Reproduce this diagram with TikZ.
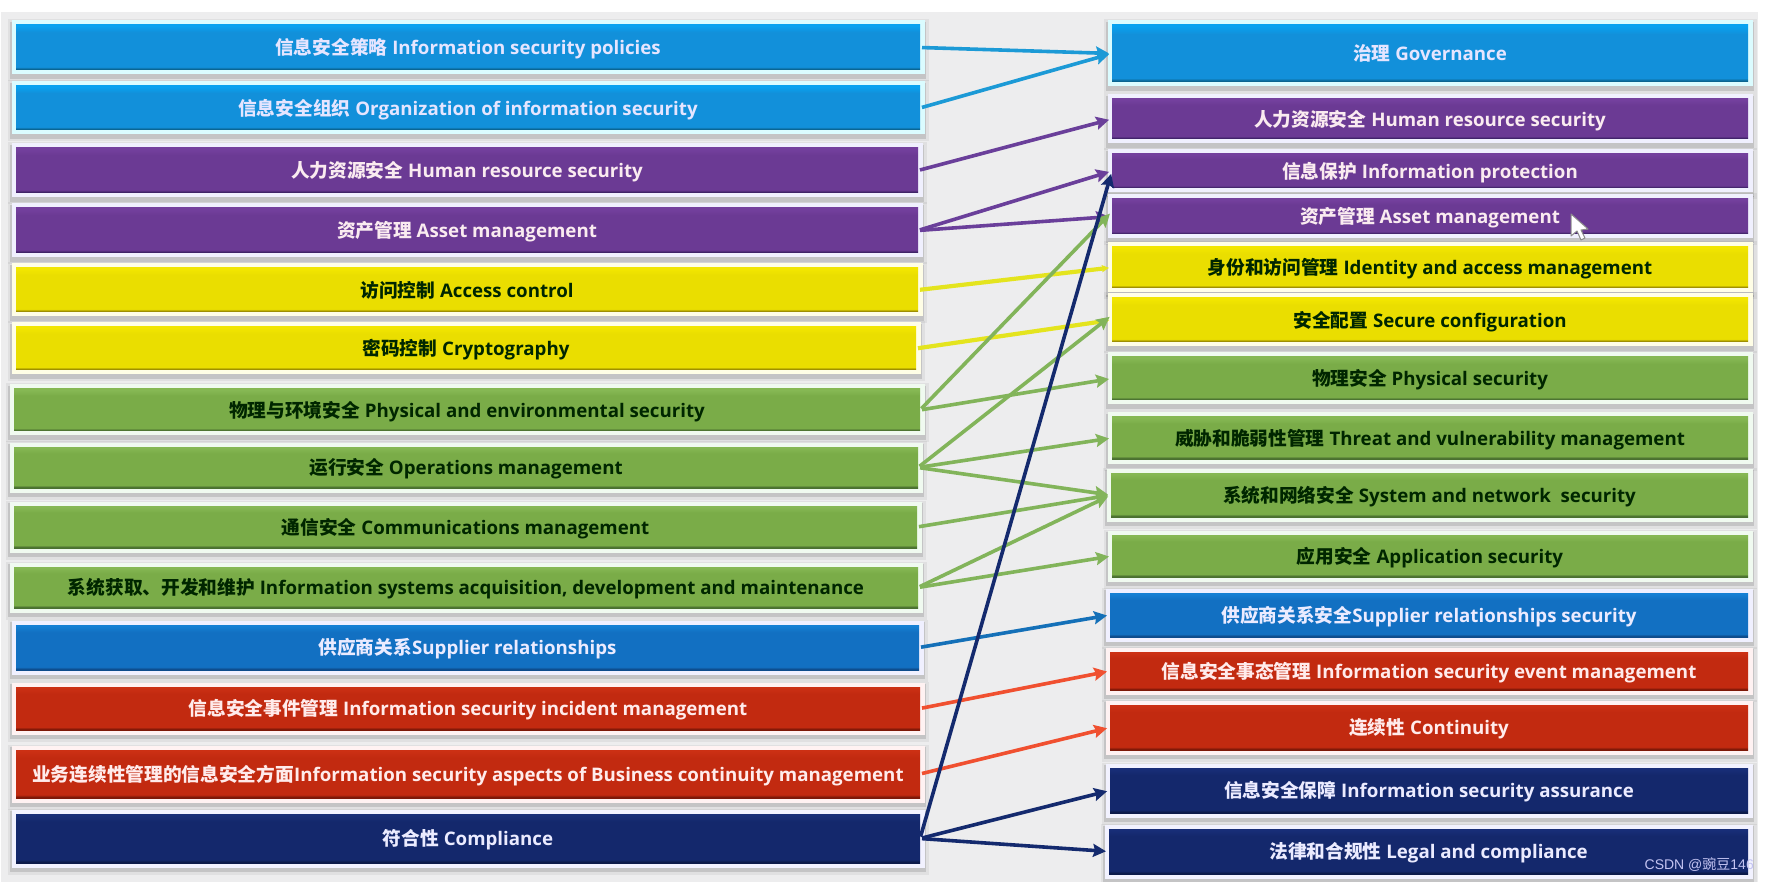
\documentclass[tikz,border=0pt]{standalone}
\usepackage{fontspec}
\setmainfont{Open Sans}
\newfontfamily\cjkfont{Noto Sans CJK SC}
\newfontfamily\markfont{Liberation Sans}
\newfontfamily\markcjk{Noto Sans CJK SC}
\usetikzlibrary{arrows.meta}
\newcommand{\zh}[1]{{\cjkfont #1}}
\newcommand{\mkshade}[4]{\pgfdeclareverticalshading{#1}{100bp}{color(0bp)=(#2); color(26bp)=(#2); color(28.5bp)=(#3); color(67bp)=(#3); color(74bp)=(#4); color(100bp)=(#4)}}
\definecolor{bgc}{HTML}{EDEDEE}
\definecolor{bluedk}{HTML}{0A6490}\definecolor{bluemd}{HTML}{1290DA}\definecolor{bluelt}{HTML}{08A2F0}
\definecolor{purdk}{HTML}{3E2266}\definecolor{purmd}{HTML}{6B3A94}\definecolor{purlt}{HTML}{74409E}
\definecolor{yeldk}{HTML}{9A8A00}\definecolor{yelmd}{HTML}{EADE00}\definecolor{yellt}{HTML}{F2E600}
\definecolor{gredk}{HTML}{4A7030}\definecolor{gremd}{HTML}{7AAC48}\definecolor{grelt}{HTML}{86B854}
\definecolor{depdk}{HTML}{0E4C8C}\definecolor{depmd}{HTML}{1270C2}\definecolor{deplt}{HTML}{1680D4}
\definecolor{reddk}{HTML}{7E1808}\definecolor{redmd}{HTML}{C22A10}\definecolor{redlt}{HTML}{CC3014}
\definecolor{navdk}{HTML}{0C1A4A}\definecolor{navmd}{HTML}{14286C}\definecolor{navlt}{HTML}{182E78}
\mkshade{shblue}{bluedk}{bluemd}{bluelt}
\mkshade{shpur}{purdk}{purmd}{purlt}
\mkshade{shyel}{yeldk}{yelmd}{yellt}
\mkshade{shgre}{gredk}{gremd}{grelt}
\mkshade{shdep}{depdk}{depmd}{deplt}
\mkshade{shred}{reddk}{redmd}{redlt}
\mkshade{shnav}{navdk}{navmd}{navlt}
\tikzset{
  wh/.style 2 args={minimum width=#1pt,minimum height=#2pt},
  basebox/.style n args={3}{shading=#1,text=#3,inner sep=0pt,outer sep=0pt,
    text height=18pt,text depth=3.6pt,
    font=\fontsize{18.7}{22}\selectfont\bfseries,
    preaction={draw=black,draw opacity=.05,line width=17pt,transform canvas={yshift=-3pt}},
    preaction={draw=black,draw opacity=.12,line width=12pt,transform canvas={yshift=-3pt}},
    preaction={draw=#2,line width=9pt}},
  bluebox/.style={basebox={shblue}{blue!8!cyan!14!white}{white!90!blue}},
  purbox/.style={basebox={shpur}{purple!6!blue!6!white}{white!92!purple}},
  yelbox/.style={basebox={shyel}{yellow!10!white}{black!85!green}},
  grebox/.style={basebox={shgre}{green!4!white!96!gray}{black!85!green}},
  depbox/.style={basebox={shdep}{blue!6!white}{white!92!blue}},
  redbox/.style={basebox={shred}{red!5!white}{white!92!red}},
  navbox/.style={basebox={shnav}{blue!5!white}{white!92!blue}},
  link/.style={line width=3.6pt,shorten <=2pt,shorten >=3pt,-{Stealth[length=13pt,width=13pt,inset=2pt]}},
  lblue/.style={link,draw={rgb,255:red,28;green,154;blue,214}},
  lpur/.style={link,draw={rgb,255:red,106;green,63;blue,154}},
  lyel/.style={link,line width=4.2pt,-{Stealth[length=7pt,width=7pt,inset=1pt]},draw={rgb,255:red,228;green,228;blue,30}},
  lgre/.style={link,draw={rgb,255:red,130;green,180;blue,90}},
  ldep/.style={link,draw={rgb,255:red,20;green,112;blue,184}},
  lred/.style={link,draw={rgb,255:red,240;green,80;blue,48}},
  lnav/.style={link,draw={rgb,255:red,20;green,42;blue,110}}
}
\begin{document}
\begin{tikzpicture}[x=1pt,y=-1pt]
\useasboundingbox (0,0) rectangle (1770,882);
\fill[bgc] (1,12) rectangle (1758,882);
% left column
\node[bluebox,wh={904}{45}] (l1) at (468,47.5) {\zh{信息安全策略} Information security policies};
\node[bluebox,wh={904}{44}] (l2) at (468,108) {\zh{信息安全组织} Organization of information security};
\node[purbox,wh={902}{45}] (l3) at (467,170.5) {\zh{人力资源安全} Human resource security};
\node[purbox,wh={902}{45}] (l4) at (467,230.5) {\zh{资产管理} Asset management};
\node[yelbox,wh={902}{44}] (l5) at (467,290) {\zh{访问控制} Access control};
\node[yelbox,wh={900}{43}] (l6) at (466,348.5) {\zh{密码控制} Cryptography};
\node[grebox,wh={906}{42}] (l7) at (467,410) {\zh{物理与环境安全} Physical and environmental security};
\node[grebox,wh={904}{41}] (l8) at (466,467.5) {\zh{运行安全} Operations management};
\node[grebox,wh={903}{42}] (l9) at (465.5,527) {\zh{通信安全} Communications management};
\node[grebox,wh={904}{41}] (l10) at (466,587.5) {\zh{系统获取、开发和维护} Information systems acquisition, development and maintenance};
\node[depbox,wh={903}{45}] (l11) at (467.5,647.5) {\zh{供应商关系}Supplier relationships};
\node[redbox,wh={904}{43}] (l12) at (468,708.5) {\zh{信息安全事件管理} Information security incident management};
\node[redbox,wh={904}{48}] (l13) at (468,774) {\zh{业务连续性管理的信息安全方面}Information security aspects of Business continuity management};
\node[navbox,wh={904}{49}] (l14) at (468,838.5) {\zh{符合性} Compliance};
% right column
\node[bluebox,wh={636}{57}] (r1) at (1430,53.5) {\zh{治理} Governance};
\node[purbox,wh={636}{40}] (r2) at (1430,119) {\zh{人力资源安全} Human resource security};
\node[purbox,wh={636}{34}] (r3) at (1430,171) {\zh{信息保护} Information protection};
\node[purbox,wh={636}{35}] (r4) at (1430,216.5) {\zh{资产管理} Asset management};
\node[yelbox,wh={636}{41}] (r5) at (1430,267.5) {\zh{身份和访问管理} Identity and access management};
\node[yelbox,wh={636}{44}] (r6) at (1430,320) {\zh{安全配置} Secure configuration};
\node[grebox,wh={636}{43}] (r7) at (1430,378.5) {\zh{物理安全} Physical security};
\node[grebox,wh={636}{42}] (r8) at (1430,438) {\zh{威胁和脆弱性管理} Threat and vulnerability management};
\node[grebox,wh={637}{44}] (r9) at (1429.5,495) {\zh{系统和网络安全} System and network\ \ security};
\node[grebox,wh={636}{42}] (r10) at (1430,556) {\zh{应用安全} Application security};
\node[depbox,wh={638}{44}] (r11) at (1429,615) {\zh{供应商关系安全}Supplier relationships security};
\node[redbox,wh={638}{38}] (r12) at (1429,671) {\zh{信息安全事态管理} Information security event management};
\node[redbox,wh={638}{45}] (r13) at (1429,727.5) {\zh{连续性} Continuity};
\node[navbox,wh={638}{45}] (r14) at (1429,790.5) {\zh{信息安全保障} Information security assurance};
\node[navbox,wh={639}{45}] (r15) at (1428.5,851.5) {\zh{法律和合规性} Legal and compliance};
% connectors
\draw[lblue] (l1.east) -- (r1.west);
\draw[lblue] (l2.east) -- (r1.west);
\draw[lpur] (l3.east) -- (r2.west);
\draw[lpur] (l4.east) -- (r3.west);
\draw[lpur] (l4.east) -- (r4.west);
\draw[lyel] (l5.east) -- (r5.west);
\draw[lyel] (l6.east) -- (r6.west);
\draw[lgre] (l7.east) -- ([yshift=5pt]r4.west);
\draw[lgre] (l7.east) -- (r7.west);
\draw[lgre] (l8.east) -- ([yshift=5pt]r6.west);
\draw[lgre] (l8.east) -- (r8.west);
\draw[lgre] (l8.east) -- (r9.west);
\draw[lgre] (l9.east) -- (r9.west);
\draw[lgre] (l10.east) -- (r9.west);
\draw[lgre] (l10.east) -- (r10.west);
\draw[ldep] (l11.east) -- (r11.west);
\draw[lred] (l12.east) -- (r12.west);
\draw[lred] (l13.east) -- (r13.west);
\draw[lnav] (l14.east) -- (r14.west);
\draw[lnav] (l14.east) -- (r15.west);
\draw[lnav] (l14.east) -- (r3.west);
% pointer and watermark
\filldraw[fill=white,draw=black!45,line width=1pt,line join=round] (1571,214) -- (1571,236) -- (1577,231) -- (1581,240) -- (1585,238) -- (1581,230) -- (1588,229) -- cycle;
\node[anchor=east,text=white!80!blue!90!gray,font=\fontsize{14}{17}\selectfont,inner sep=0pt] (wm) at (1754,865) {{\markfont CSDN @}{\markcjk 豌豆}{\markfont 146}};
\end{tikzpicture}
\end{document}
